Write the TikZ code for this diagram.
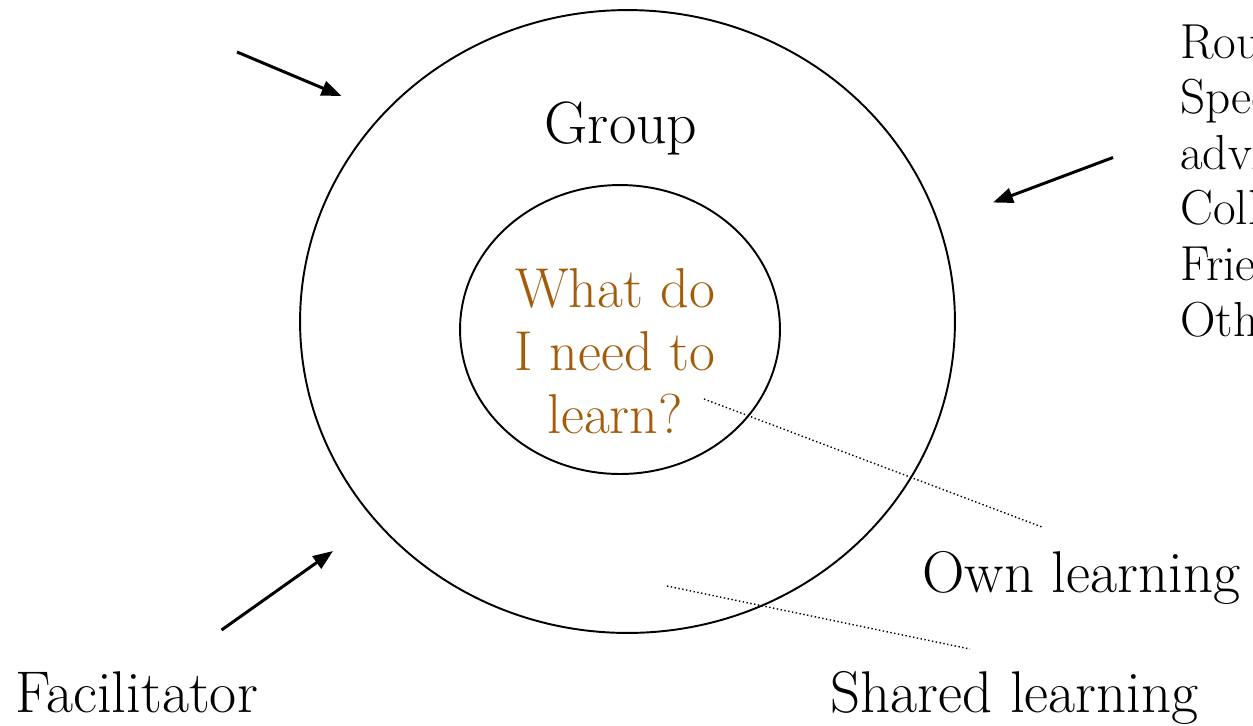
\documentclass[tikz,border=0pt]{standalone}
\usepackage{fontspec}
\usepackage{tikz}
\usetikzlibrary{positioning,arrows.meta,shapes.geometric}
\usepackage{xcolor}
\definecolor{askbrown}{RGB}{162,92,10}

\begin{document}
\begin{tikzpicture}[x=0.02cm, y=-0.02cm,
        ring/.style={ellipse, draw, line width=1.1pt, inner sep=0pt, outer sep=0pt},
        tag/.style={inner sep=0pt, anchor=base west, font=\fontsize{33.5}{40}\selectfont},
        pointer/.style={line width=1.7pt, -{Triangle[length=0.4cm, width=0.3cm]}},
        guide/.style={line width=0.8pt, dash pattern=on 0.8pt off 1.4pt}]
        \useasboundingbox (0,0) rectangle (1253,725);
        \clip (0,0) rectangle (1253,725);

        % Circles
        \node[ring, minimum width=13.1cm, minimum height=12.46cm] (group) at (627.5,321.5) {};
        \node[ring, minimum width=6.4cm, minimum height=5.78cm] (self) at (620,329.5) {};

        % Texts
        \node[tag, anchor=base, font=\fontsize{34}{40}\selectfont] (grouptxt) at (621,143) {Group};
        \node[inner sep=0pt, anchor=base, align=center, text=askbrown,
              font=\fontsize{32}{35.7}\selectfont] (question) at (615,433) {What do\\I need to\\learn?};
        \node[inner sep=0pt, anchor=base west, align=left,
              font=\fontsize{28}{31.6}\selectfont] (sources) at (1180,336) {Routine\\Specialist\\advice\\Colleagues\\Friends\\Others};
        \node[tag] (facil) at (15,712) {Facilitator};
        \node[tag] (own) at (922,592) {Own learning};
        \node[tag] (shared) at (830,712) {Shared learning};

        % Arrows
        \coordinate (from1) at (237,52);
        \coordinate (tip1) at (341.5,96);
        \coordinate (from2) at (1113,157.5);
        \coordinate (tip2) at (993,202.5);
        \coordinate (from3) at (221.5,630);
        \coordinate (tip3) at (333,551);
        \draw[pointer] (from1) -- (tip1);
        \draw[pointer] (from2) -- (tip2);
        \draw[pointer] (from3) -- (tip3);

        % Dotted lines
        \coordinate (own0) at (704,399);
        \coordinate (own1) at (1042,527);
        \coordinate (shared0) at (667,586);
        \coordinate (shared1) at (970,649);
        \draw[guide] (own0) -- (own1);
        \draw[guide] (shared0) -- (shared1);
    \end{tikzpicture}
\end{document}
